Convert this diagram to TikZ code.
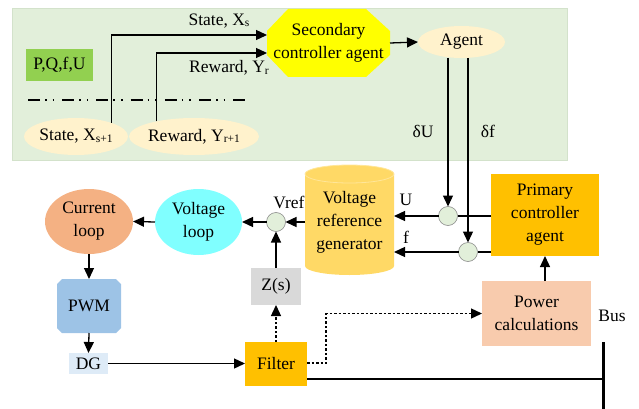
\documentclass[tikz,border=0pt]{standalone}
\usepackage{fontspec}
\setmainfont{Liberation Serif}
\usetikzlibrary{arrows.meta,shapes.geometric}

\definecolor{panelgreen}{HTML}{E2EFDA}
\definecolor{paneledge}{HTML}{D3E2CB}
\definecolor{pqgreen}{HTML}{92D050}
\definecolor{cream}{HTML}{FFF2CC}
\definecolor{secyellow}{HTML}{FFFF00}
\definecolor{cylgold}{HTML}{FFD966}
\definecolor{cyledge}{HTML}{FFE699}
\definecolor{amber}{HTML}{FFC000}
\definecolor{peach}{HTML}{F8CBAD}
\definecolor{zgray}{HTML}{D9D9D9}
\definecolor{vcyan}{HTML}{80FFFF}
\definecolor{corange}{HTML}{F4B183}
\definecolor{pwmblue}{HTML}{9DC3E6}
\definecolor{dgblue}{HTML}{DEEBF7}
\definecolor{sumedge}{HTML}{8A8A8A}

\newcommand{\sbs}[1]{\raisebox{-1.5pt}{\fontsize{11.5}{11.5}\selectfont #1}}

\begin{document}
\begin{tikzpicture}[x=1pt,y=-1pt,
  font=\fontsize{17.5}{23}\selectfont,
  every node/.style={align=center, inner sep=0pt, outer sep=0pt},
  oval/.style={ellipse},
  sumnode/.style={circle, draw=sumedge, line width=0.6pt, fill=panelgreen, minimum size=19pt},
  arr/.style={line width=1.3pt, -{Triangle[length=11pt,width=10pt]}},
  wire/.style={line width=1.3pt},
  dots/.style={dash pattern=on 2.5pt off 2pt}
]
\useasboundingbox (0,0) rectangle (639,409);

% upper panel holding the secondary control loop
\node[fill=panelgreen, draw=paneledge, line width=0.8pt, minimum width=555pt, minimum height=152pt, anchor=north west] (panel) at (12,8) {};

\node[fill=pqgreen, minimum width=67pt, minimum height=32pt] (pq) at (59.5,65) {P,Q,f,U};

% dash-dot separator
\draw[line width=1.8pt, dash pattern=on 12pt off 5pt on 1.6pt off 6pt on 1.6pt off 8pt] (28,100) -- (248,100);

\node[oval, fill=cream, minimum width=104pt, minimum height=37pt] (sx) at (76,136.5) {State, X\sbs{s+1}};
\node[oval, fill=cream, minimum width=122pt, minimum height=37pt] (ry) at (194,136.5) {Reward, Y\sbs{r+1}};

% octagonal secondary controller
\fill[secyellow] (288,9) -- (366,9) -- (390,31) -- (390,55) -- (366,77) -- (288,77) -- (267,55) -- (267,31) -- cycle;
\node[minimum width=123pt, minimum height=68pt] (sec) at (328.5,43) {Secondary\\controller agent};

\node[oval, fill=cream, minimum width=87pt, minimum height=32pt] (agent) at (461.5,42) {Agent};

\draw[arr] (sx.21) |- ([yshift=8pt]sec.west);
\draw[arr] (ry.158) |- ([yshift=-10pt]sec.west);
\node (lstate) at (219,21) {State, X\sbs{s}};
\node (lreward) at (229,68) {Reward, Y\sbs{r}};
\draw[arr] (sec.east) -- (agent.west);

% voltage reference generator (cylinder)
\fill[cylgold] (305,174) -- (305,266) arc[start angle=180, end angle=360, x radius=44.5pt, y radius=9pt]
  -- (394,174) arc[start angle=0, end angle=180, x radius=44.5pt, y radius=9pt] -- cycle;
\draw[cyledge, line width=0.8pt] (349.5,174) ellipse[x radius=44.5pt, y radius=9pt];
\node[minimum width=89pt, minimum height=110pt] (vrg) at (349.5,222) {Voltage\\reference\\generator};

% primary side
\node[fill=amber, minimum width=108pt, minimum height=82pt] (prim) at (545,215) {Primary\\controller\\agent};
\node[fill=peach, minimum width=109pt, minimum height=65pt] (power) at (536.5,313.5) {Power\\calculations};

\node[sumnode] (cU) at (448,216) {};
\node[sumnode] (cf) at (468,252) {};

\draw[arr] (agent.south -| cU) -- (cU.north);
\draw[arr] (agent.south -| cf) -- (cf.north);
\node (ldU) at (423,131) {δU};
\node (ldf) at (488,131) {δf};

\draw[wire] (prim.west |- cU) -- (cU.east);
\draw[arr] (cU.west) -- (cU -| vrg.east);
\draw[wire] (prim.west |- cf) -- (cf.east);
\draw[arr] (cf.west) -- (cf -| vrg.east);
\node (lU) at (406,200) {U};
\node (lf) at (406,237) {f};

\draw[arr] (power.north -| prim.south) -- (prim.south);

% bus
\coordinate (bustop) at (603,342);
\coordinate (busbot) at (603,409);
\draw[line width=3pt] (bustop) -- (busbot);
\node (lbus) at (612,316) {Bus};

% inner loops
\node[sumnode] (cv) at (276,222) {};
\node (lvref) at (289,202) {Vref};
\node[oval, fill=vcyan, minimum width=87pt, minimum height=66pt] (vloop) at (198.5,222) {Voltage\\loop};
\node[oval, fill=corange, minimum width=88pt, minimum height=65pt] (cloop) at (89,221.5) {Current\\loop};

\fill[pwmblue] (62,279) -- (116,279) -- (121,284) -- (121,328) -- (116,333) -- (62,333) -- (57,328) -- (57,284) -- cycle;
\node[minimum width=64pt, minimum height=54pt] (pwm) at (89,306) {PWM};
\node[fill=dgblue, minimum width=39pt, minimum height=21pt] (dg) at (88.5,363.5) {DG};

\node[fill=amber, minimum width=62pt, minimum height=44pt] (filter) at (276,364) {Filter};
\node[fill=zgray, minimum width=50pt, minimum height=37pt] (zs) at (276,286.5) {Z(s)};

\draw[arr] (vrg.west |- cv) -- (cv.east);
\draw[arr] (cv.west) -- (vloop.east);
\draw[arr] (vloop.west) -- (cloop.east);
\draw[arr] (cloop.south) -- (pwm.north);
\draw[arr] (pwm.south) -- (dg.north);
\draw[arr] (dg.east) -- (filter.west |- dg);
\draw[arr, dots] (filter.north) -- (zs.south);
\draw[arr] (zs.north) -- (cv.south);

\coordinate (fd) at ([yshift=1pt]filter.east);
\draw[arr, dots] (fd) -- ++(19,0) |- (power.west);
\coordinate (fb) at ([yshift=-15pt]filter.east);
\draw[wire] (fb) -- (fb -| bustop);
\end{tikzpicture}
\end{document}
